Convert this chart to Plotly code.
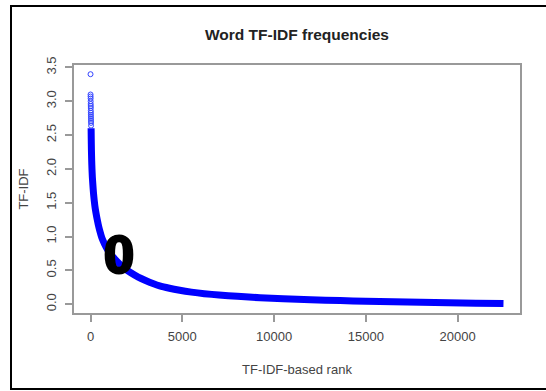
import plotly.graph_objects as go

# Sparse top-ranked words (open circles)
top_rank = [1, 3, 5, 7, 9, 11, 13, 15, 17, 19, 21, 23, 25, 27, 29, 31]
top_tfidf = [3.40, 3.10, 3.07, 3.04, 3.00, 2.96, 2.93, 2.90, 2.86, 2.83, 2.80, 2.77, 2.74, 2.71, 2.68, 2.64]

# Dense body of the curve
rank = [33, 40, 50, 65, 80, 100, 125, 160, 200, 260, 345, 420, 500, 620, 765, 900, 1050,
        1310, 1600, 1900, 2220, 2600, 3000, 3400, 3770, 4300, 4863, 5500, 6200, 7000,
        8000, 9235, 10500, 12000, 13600, 15000, 16500, 18000, 19500, 21000, 22500]
tfidf = [2.60, 2.45, 2.28, 2.12, 2.00, 1.88, 1.78, 1.65, 1.54, 1.41, 1.28, 1.18, 1.09, 0.98, 0.89, 0.82, 0.76,
         0.67, 0.59, 0.52, 0.46, 0.40, 0.35, 0.305, 0.27, 0.235, 0.205, 0.178, 0.155, 0.135,
         0.115, 0.095, 0.080, 0.065, 0.052, 0.043, 0.035, 0.027, 0.020, 0.014, 0.008]

# Hand-drawn "0" mark
mark_x = [1560]
mark_y = [0.66]
mark_text = ["0"]

x_tickvals = [0, 5000, 10000, 15000, 20000]
x_ticktext = ["0", "5000", "10000", "15000", "20000"]
y_tickvals = [0.0, 0.5, 1.0, 1.5, 2.0, 2.5, 3.0, 3.5]
y_ticktext = ["0.0", "0.5", "1.0", "1.5", "2.0", "2.5", "3.0", "3.5"]

fig = go.Figure()
fig.add_trace(go.Scatter(x=rank, y=tfidf, mode="lines",
                         line=dict(color="#0000FF", width=7, shape="spline", smoothing=0.6),
                         hoverinfo="skip"))
fig.add_trace(go.Scatter(x=top_rank, y=top_tfidf, mode="markers",
                         marker=dict(symbol="circle-open", size=5, color="#3344FF",
                                     line=dict(width=1, color="#3344FF"))))
fig.add_trace(go.Scatter(x=mark_x, y=mark_y, mode="text", text=mark_text,
                         textposition="middle center",
                         textfont=dict(family="Liberation Sans", size=54, color="black", weight="bold",
                                       shadow="1.5px 0 0 black, -1.5px 0 0 black, 0 1px 0 black, 0 -1px 0 black")))

axis_common = dict(showline=True, linecolor="#999999", linewidth=1.5, mirror=True,
                   ticks="outside", ticklen=7, tickcolor="#999999", tickwidth=1.5,
                   showgrid=False, zeroline=False,
                   tickfont=dict(family="Liberation Sans", size=13, color="#444444"))

fig.update_layout(
    width=546, height=391,
    margin=dict(l=74, r=26, t=65, b=78),
    paper_bgcolor="white", plot_bgcolor="white",
    showlegend=False,
    title=dict(text="<b>Word TF-IDF frequencies</b>", x=(297) / 546, xanchor="center",
               y=1 - 35 / 391, yanchor="middle",
               font=dict(family="Liberation Sans", size=15.5, color="#222222")),
    xaxis=dict(range=[-899, 23400], tickvals=x_tickvals, ticktext=x_ticktext,
               ticklabelstandoff=4,
               title=dict(text="TF-IDF-based rank", standoff=22,
                          font=dict(family="Liberation Sans", size=13, color="#444444")),
               **axis_common),
    yaxis=dict(range=[-0.131, 3.536], tickvals=y_tickvals, ticktext=y_ticktext, tickangle=-90,
               ticklabelstandoff=4,
               title=dict(text="TF-IDF", standoff=12,
                          font=dict(family="Liberation Sans", size=13, color="#444444")),
               **axis_common),
    shapes=[dict(type="rect", xref="paper", yref="paper",
                 x0=(11 - 74) / 446, x1=(600 - 74) / 446,
                 y0=(313 - 389) / 248, y1=(313 - 6) / 248,
                 line=dict(color="black", width=2), fillcolor="rgba(0,0,0,0)", layer="below")],
)

fig.write_html("out.html")
